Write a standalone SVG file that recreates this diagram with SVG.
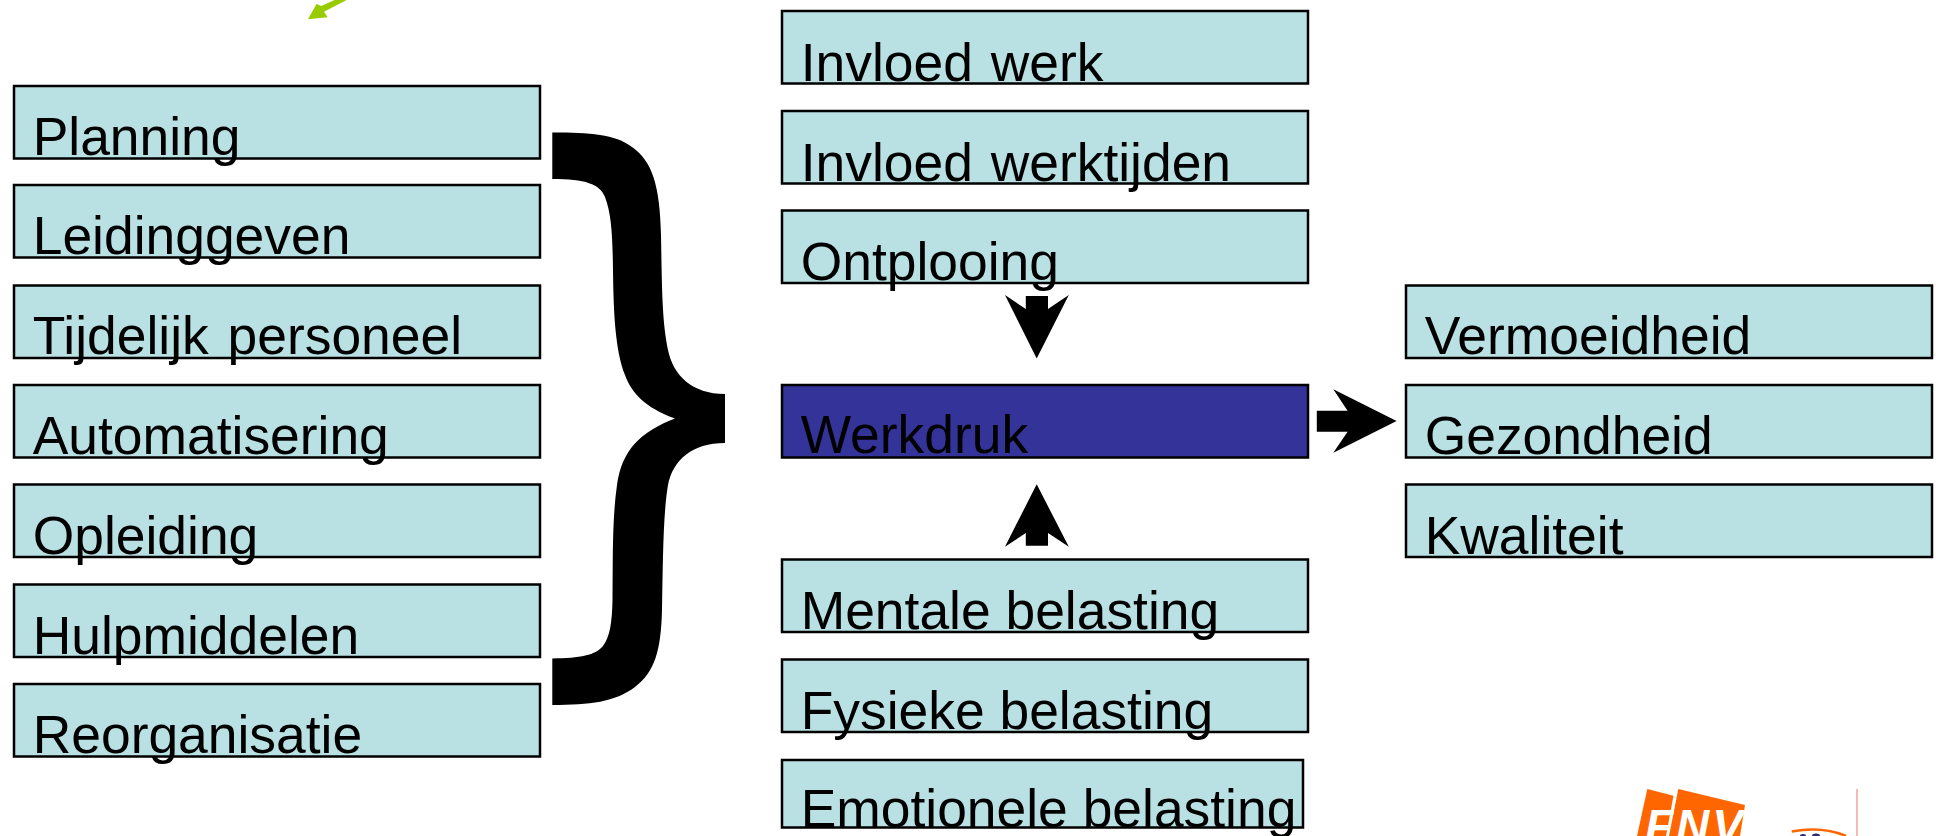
<svg xmlns="http://www.w3.org/2000/svg" width="1936" height="836" viewBox="0 0 1936 836">
<style>
.b{fill:#b9e0e3;stroke:#000;stroke-width:2.5}
.d{fill:#333399;stroke:#000;stroke-width:2.5}
text{font-family:"Liberation Sans",Arial,sans-serif;font-size:53.4px;fill:#000}
.w{word-spacing:3px}
.a{fill:#000}
.logo-text{font-size:46px;font-weight:bold;font-style:italic;fill:#fff;letter-spacing:3px}
</style>
<rect width="1936" height="836" fill="#fff"/>
<g id="connectors">
<path id="brace" class="a" d="M552.300 132.500C590 132.500 615 134 632 147C652 161 660 185 661 235C662 290 662 320 668 350C673 375 692 394 725 394L725 443C692 443 673 460 668 485C663 515 663 560 662 610C661 650 655 672 635 687C615 702 590 705 552.300 705L552.300 658.400C580 658.400 596 655 603 646C610 637 612 622 612.500 600C613 560 612 520 617 485C622 450 640 432 675 418.400C645 408 631 392 625 375C615 350 613.500 310 613 270C612.500 240 612 215 605 197C600 184 585 179 552.300 179Z"/>
<polygon id="arrow-down" class="a" points="1025.800,296 1048,296 1048,309 1068.800,295 1036.700,358.500 1005,295 1025.800,309"/>
<polygon id="arrow-up" class="a" points="1025.800,545.700 1048,545.700 1048,533 1068.800,546.700 1036.700,484.300 1005,546.700 1025.800,533"/>
<polygon id="arrow-right" class="a" points="1316.800,410.700 1347.600,410.700 1333.300,389.300 1396.600,421 1333.300,452.700 1347.600,431.700 1316.800,431.700"/>
<polygon id="arrow-green" fill="#99cc00" points="334.500,0 321.400,6 316.500,4 308,19.300 327.700,17.300 324,11.700 346.600,0"/>
</g>
<g id="planning"><rect class="b" x="14" y="86" width="526" height="72.500"/><text x="32.700" y="154.500">Planning</text></g>
<g id="leidinggeven"><rect class="b" x="14" y="185" width="526" height="72.500"/><text x="32.700" y="254">Leidinggeven</text></g>
<g id="tijdelijk"><rect class="b" x="14" y="285.500" width="526" height="72.500"/><text class="w" x="32.700" y="354" style="word-spacing:4px">Tijdelijk personeel</text></g>
<g id="automatisering"><rect class="b" x="14" y="385" width="526" height="72.500"/><text x="32.700" y="454">Automatisering</text></g>
<g id="opleiding"><rect class="b" x="14" y="484.500" width="526" height="72.500"/><text x="32.700" y="553.500">Opleiding</text></g>
<g id="hulpmiddelen"><rect class="b" x="14" y="584.500" width="526" height="72.500"/><text x="32.700" y="653.500">Hulpmiddelen</text></g>
<g id="reorganisatie"><rect class="b" x="14" y="684" width="526" height="72.500"/><text x="32.700" y="753">Reorganisatie</text></g>
<g id="invloed-werk"><rect class="b" x="782" y="11" width="526" height="72.500"/><text class="w" x="800.700" y="81">Invloed werk</text></g>
<g id="invloed-werktijden"><rect class="b" x="782" y="111" width="526" height="72.500"/><text class="w" x="800.700" y="180.500">Invloed werktijden</text></g>
<g id="ontplooing"><rect class="b" x="782" y="210.500" width="526" height="72.500"/><text x="800.700" y="279.500">Ontplooing</text></g>
<g id="werkdruk"><rect class="d" x="782" y="385" width="526" height="72.500"/><text x="800.700" y="453">Werkdruk</text></g>
<g id="mentale"><rect class="b" x="782" y="559.500" width="526" height="72.500"/><text x="800.700" y="628.500">Mentale belasting</text></g>
<g id="fysieke"><rect class="b" x="782" y="659.500" width="526" height="72.500"/><text x="800.700" y="728.500">Fysieke belasting</text></g>
<g id="emotionele"><rect class="b" x="782" y="760" width="521" height="67.500"/><text x="800.700" y="827">Emotionele belasting</text></g>
<g id="vermoeidheid"><rect class="b" x="1406" y="285.500" width="526" height="72.500"/><text x="1424.700" y="354">Vermoeidheid</text></g>
<g id="gezondheid"><rect class="b" x="1406" y="385" width="526" height="72.500"/><text x="1424.700" y="454">Gezondheid</text></g>
<g id="kwaliteit"><rect class="b" x="1406" y="484.500" width="526" height="72.500"/><text x="1424.700" y="553.500">Kwaliteit</text></g>
<g id="logo">
<polygon fill="#ff6600" points="1647.300,789 1673.500,795.700 1666,836 1637,836"/>
<polygon fill="#ff6600" points="1678.300,789 1745,805 1740,836 1669,836"/>
<text class="logo-text" x="1645" y="842">FNV</text>
<path d="M1791.700 831.500C1812 828 1832 830 1846 836" fill="none" stroke="#ff6600" stroke-width="2.500"/>
<ellipse cx="1803" cy="836" rx="3" ry="2" fill="#2a2a70"/>
<ellipse cx="1816" cy="836" rx="4" ry="2.500" fill="#2a2a70"/>
<line x1="1857" y1="789" x2="1857" y2="836" stroke="#f4a0a0" stroke-width="1.500"/>
</g>
</svg>
